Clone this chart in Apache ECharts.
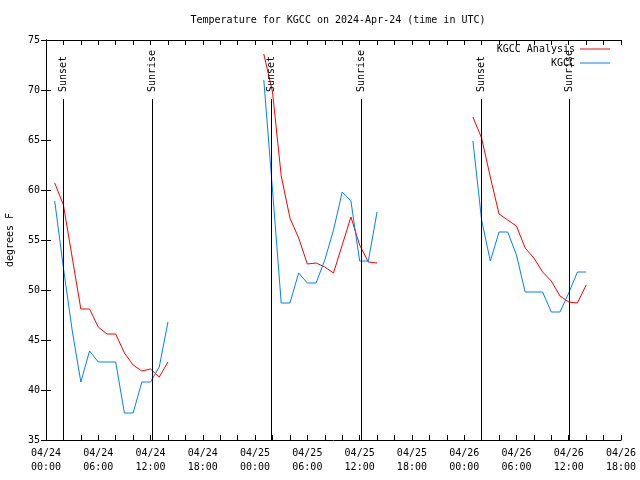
<!DOCTYPE html>
<html>
<head>
<meta charset="utf-8">
<script src="https://cdn.jsdelivr.net/npm/echarts@6/dist/echarts.min.js"></script>
<style>
html,body{margin:0;padding:0;background:#fff;}
#chart{width:640px;height:480px;}
</style>
</head>
<body>
<div id="chart"></div>
<script>
// Hours since 2024-04-24 00:00 UTC
const hours = [1,2,3,4,5,6,7,8,9,10,11,12,13,14,
               25,26,27,28,29,30,31,32,33,34,35,36,37,38,
               49,50,51,52,53,54,55,56,57,58,59,60,61,62];
const analysisF = [60.7,58.5,53.3,48.1,48.1,46.3,45.6,45.6,43.7,42.5,41.9,42.1,41.3,42.8,
                   73.6,69.8,61.4,57.2,55.2,52.6,52.7,52.3,51.7,54.5,57.3,54.5,52.8,52.7,
                   67.3,65.2,61.3,57.6,57.0,56.4,54.2,53.2,51.8,50.9,49.4,48.8,48.7,50.5];
const observedF = [58.9,52.2,46.0,40.8,43.9,42.8,42.8,42.8,37.7,37.7,40.8,40.8,42.3,46.8,
                   71.0,60.0,48.7,48.7,51.7,50.7,50.7,53.0,56.0,59.8,58.9,52.9,52.9,57.8,
                   64.9,57.0,52.9,55.8,55.8,53.5,49.8,49.8,49.8,47.8,47.8,49.7,51.8,51.8];
const sunTimes = [1.9, 12.17, 25.85, 36.1, 49.95, 60.08];
const sunLabels = ['Sunset','Sunrise','Sunset','Sunrise','Sunset','Sunrise'];
const xTickLabels = ['04/24\n00:00','04/24\n06:00','04/24\n12:00','04/24\n18:00',
                     '04/25\n00:00','04/25\n06:00','04/25\n12:00','04/25\n18:00',
                     '04/26\n00:00','04/26\n06:00','04/26\n12:00','04/26\n18:00'];
const seriesNames = ['KGCC Analysis','KGCC'];
const seriesColors = ['#ff0000','#0080ff'];

const FONT = 'DejaVu Sans Mono';

function build(vals){
  const out = [];
  for (let i = 0; i < hours.length; i++) {
    if (i > 0 && hours[i] - hours[i-1] > 1) out.push([hours[i-1] + 1, '-']);
    out.push([hours[i], vals[i]]);
  }
  return out;
}

const chart = echarts.init(document.getElementById('chart'));
const axisBase = {
  axisLine:{show:true, lineStyle:{color:'#000', width:1}},
  splitLine:{show:false}
};
const legendBase = {
  align:'right', padding:0, itemWidth:30, itemHeight:1, icon:'rect',
  textStyle:{fontFamily:FONT, fontSize:10, color:'#000'}
};
chart.setOption({
  animation:false,
  backgroundColor:'#fff',
  title:{
    text:'Temperature for KGCC on 2024-Apr-24 (time in UTC)',
    left:333, textAlign:'center', top:10,
    textStyle:{fontFamily:FONT, fontSize:10, fontWeight:'normal', color:'#000'}
  },
  legend:[
    Object.assign({}, legendBase, {data:[seriesNames[0]], right:30, top:44}),
    Object.assign({}, legendBase, {data:[seriesNames[1]], right:30, top:58})
  ],
  grid:{left:46, right:19, top:40, bottom:40, containLabel:false, outerBoundsMode:'none'},
  xAxis:[
    Object.assign({}, axisBase, {
      type:'value', position:'bottom', min:0, max:66, interval:2,
      axisTick:{show:true, inside:true, length:5, lineStyle:{color:'#000'}},
      axisLabel:{show:true, margin:6, color:'#000', fontFamily:FONT, fontSize:10, lineHeight:14,
        formatter:function(v){ return (v % 6 === 0) ? xTickLabels[v/6] : ''; }}
    }),
    Object.assign({}, axisBase, {
      type:'value', position:'top', min:0, max:66, interval:2,
      axisTick:{show:true, inside:true, length:5, lineStyle:{color:'#000'}},
      axisLabel:{show:false}
    })
  ],
  yAxis:[
    Object.assign({}, axisBase, {
      type:'value', position:'left', min:35, max:75, interval:5,
      name:'degrees F', nameLocation:'middle', nameGap:31, nameRotate:90,
      nameTextStyle:{fontFamily:FONT, fontSize:10, color:'#000'},
      axisTick:{show:true, inside:true, length:5, lineStyle:{color:'#000'}},
      axisLabel:{show:true, margin:6, color:'#000', fontFamily:FONT, fontSize:10}
    }),
    Object.assign({}, axisBase, {
      type:'value', position:'right', min:35, max:75, interval:5,
      axisTick:{show:true, inside:true, length:5, lineStyle:{color:'#000'}},
      axisLabel:{show:false}
    })
  ],
  series:[
    {name:seriesNames[0], type:'line', data:build(analysisF), symbol:'none', showSymbol:false,
     connectNulls:false, lineStyle:{color:seriesColors[0], width:1}, itemStyle:{color:seriesColors[0]}, z:2},
    {name:seriesNames[1], type:'line', data:build(observedF), symbol:'none', showSymbol:false,
     connectNulls:false, lineStyle:{color:seriesColors[1], width:1}, itemStyle:{color:seriesColors[1]}, z:3},
    {name:'sun', type:'custom', z:4, silent:true,
     data:sunTimes.map(function(t){ return [t, 35]; }),
     encode:{x:0, y:1},
     renderItem:function(params, api){
       const t = api.value(0);
       const p0 = api.coord([t, 35]);
       const p1 = api.coord([t, 69.1]);
       const pt = api.coord([t, 69.8]);
       const x = Math.round(p0[0]) + 0.5;
       return {type:'group', children:[
         {type:'line', shape:{x1:x, y1:p0[1], x2:x, y2:p1[1]}, style:{stroke:'#000', lineWidth:1}},
         {type:'text', x:x, y:pt[1], rotation:Math.PI/2,
          style:{text:sunLabels[params.dataIndex], align:'left', verticalAlign:'middle',
                 font:'10px "DejaVu Sans Mono"', fill:'#000'}}
       ]};
     }
    }
  ]
});
</script>
</body>
</html>
